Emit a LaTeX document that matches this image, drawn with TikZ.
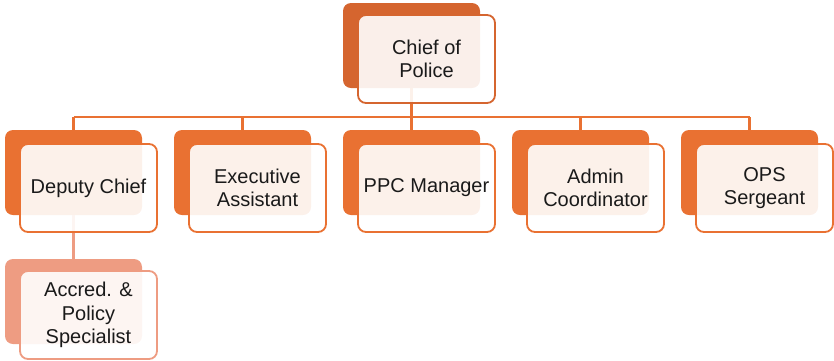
\documentclass[tikz,border=0pt]{standalone}
\usepackage{fontspec}
\setmainfont{Liberation Sans}
\definecolor{lvA}{HTML}{D5652F}
\definecolor{lvB}{HTML}{E97132}
\definecolor{lvC}{HTML}{EE9C82}
\definecolor{txt}{HTML}{1A1A1A}
\tikzset{
  backbox/.style={draw=none, fill=#1, rounded corners=8pt, minimum width=137pt, minimum height=85pt, inner sep=0pt, outer sep=0pt, anchor=north west},
  frontbox/.style={draw=#1, line width=1.8pt, fill=white, fill opacity=0.9, text opacity=1, rounded corners=8pt, minimum width=137pt, minimum height=88pt, inner sep=2pt, outer sep=0pt, anchor=north west, text=txt, align=center, font=\fontsize{20}{23.5}\selectfont},
  conn/.style={draw=#1, line width=2.2pt}
}
\begin{document}
\begin{tikzpicture}[x=1pt,y=-1pt]
\useasboundingbox (0,0) rectangle (834,360);
% back boxes
\node[backbox=lvA] (chiefB) at (343,3) {};
\node[backbox=lvB] (depB) at (5,130) {};
\node[backbox=lvB] (exeB) at (174,130) {};
\node[backbox=lvB] (ppcB) at (343,130) {};
\node[backbox=lvB] (admB) at (512,130) {};
\node[backbox=lvB] (opsB) at (681,130) {};
\node[backbox=lvC] (accB) at (5,259) {};
% connectors
\coordinate (bus) at (0,117);
\draw[conn=lvB] (chiefB.south) -- (chiefB.south |- bus);
\draw[conn=lvB] (depB.north |- bus) -- (opsB.north |- bus);
\foreach \n in {depB,exeB,ppcB,admB,opsB}{
  \draw[conn=lvB] (\n.north |- bus) -- (\n.north);
}
\draw[conn=lvC] (depB.south) -- (accB.north);
% front boxes
\node[frontbox=lvA] (chief) at (358,15) {Chief of\\Police};
\node[frontbox=lvB] (dep) at (20,144) {Deputy Chief};
\node[frontbox=lvB] (exe) at (189,144) {Executive\\Assistant};
\node[frontbox=lvB] (ppc) at (358,144) {PPC Manager};
\node[frontbox=lvB] (adm) at (527,144) {Admin\\Coordinator};
\node[frontbox=lvB] (ops) at (696,144) {OPS\\Sergeant};
\node[frontbox=lvC] (acc) at (20,271) {Accred. \&\\Policy\\Specialist};
\end{tikzpicture}
\end{document}
